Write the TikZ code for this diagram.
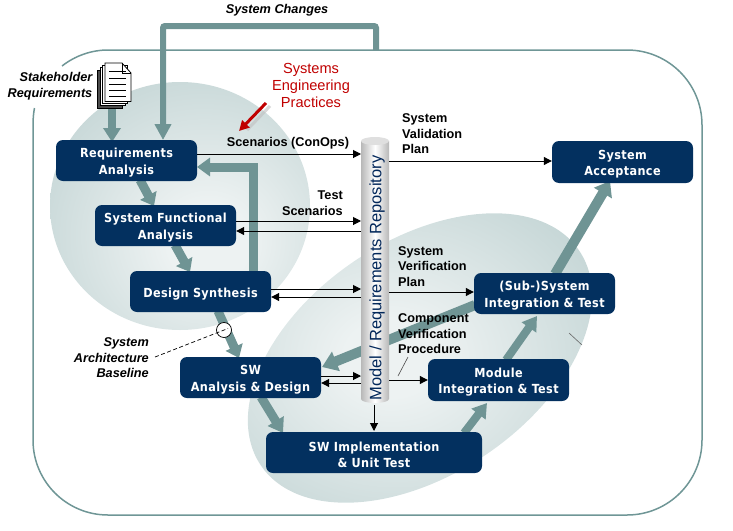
\documentclass[tikz,border=0pt]{standalone}
\usepackage{fontspec}
\setmainfont{Liberation Sans}
\newfontfamily\boxfont[LetterSpace=3]{DejaVu Sans Condensed}
\usetikzlibrary{arrows.meta,calc}
\definecolor{navy}{HTML}{03305F}
\definecolor{repotx}{HTML}{02275A}
\definecolor{teal1}{HTML}{6F9494}
\definecolor{blobout}{HTML}{B4CACA}
\definecolor{blobin}{HTML}{EDF2F2}
\definecolor{frame}{HTML}{6F9696}
\definecolor{redtx}{HTML}{C00000}
\definecolor{cylg}{HTML}{B8B8B8}
\newcommand\fstr{\rule{0pt}{14pt}}
\pgfdeclareradialshading{blobshadeA}{\pgfpoint{6bp}{-8bp}}{color(0bp)=(blobin);color(8bp)=(blobin);color(46bp)=(blobout);color(100bp)=(blobout)}
\pgfdeclareradialshading{blobshadeB}{\pgfpoint{-4bp}{0bp}}{color(0bp)=(blobin);color(6bp)=(blobin);color(40bp)=(blobout);color(100bp)=(blobout)}
\tikzset{
  x=1pt,y=-1pt,
  stepbox/.style={fill=navy,rounded corners=7pt,minimum width=141pt,minimum height=41pt,inner sep=0pt,text=white,align=center,font=\boxfont\bfseries\fontsize{12.5}{16.5}\selectfont},
  thick arrow/.style={draw=teal1,line width=8pt,-{Triangle[width=17pt,length=14pt,fill=teal1]}},
  thin arrow/.style={draw=black,line width=1pt,-{Triangle[width=8pt,length=8pt]}},
  lbl/.style={font=\bfseries\fontsize{12.7}{15.5}\selectfont,inner sep=0pt,align=left,anchor=west},
  ital/.style={font=\bfseries\itshape\fontsize{12.7}{15.5}\selectfont,inner sep=0pt},
  page/.style={draw=black,line width=.8pt,fill=white},
}
\begin{document}
\begin{tikzpicture}
\useasboundingbox (0,0) rectangle (733,530);
% blobs
\shade[shading=blobshadeA] (180,206) ellipse[x radius=130,y radius=124];
\shade[shading=blobshadeB,shift={(420,358)},rotate=34] (0,0) ellipse[x radius=192,y radius=117];
% frame
\draw[frame,line width=1.5pt,rounded corners=75pt] (108,50) -- (702,50) -- (702,515) -- (33,515) -- (33,125);
\draw[frame,line width=1.5pt] (108,50) .. controls (91.3,50) and (75.1,55.8) .. (62,66);
\draw[frame,line width=1.5pt] (33,125) .. controls (33,119) and (33.5,113) .. (34.5,108);
\path (126.5,160.5) coordinate (reqc) (165.5,225.5) coordinate (sfac) (200.5,291.5) coordinate (dsc)
      (250.5,377.5) coordinate (swc) (374,452.5) coordinate (implc) (498.5,380) coordinate (modc)
      (544.5,293.5) coordinate (subc) (622.5,162) coordinate (accc) (374.5,270) coordinate (cylc);
\path (114,85) node[minimum width=35pt,minimum height=46pt,inner sep=0pt] (docs) {};
% thick arrows
\draw[thick arrow] ([xshift=-2pt]docs.south) -- ([xshift=-14.5pt,yshift=-1pt]reqc |- 0,141);
\draw[thick arrow,line width=6pt,-{Triangle[width=16pt,length=16pt,fill=teal1]},rounded corners=2pt] (376,50) coordinate (chg) -- (376,26) -- (163,26) -- (163,140);
\draw[thick arrow,line width=9pt,-{Triangle[width=18pt,length=13pt,fill=teal1]}] (253,272) -- (253,167) -- (197,167);
\draw[thick arrow,line width=9pt,-{Triangle[width=18pt,length=12pt,fill=teal1]}] (140,180) -- (154,206);
\draw[thick arrow,line width=9pt,-{Triangle[width=18pt,length=12pt,fill=teal1]}] (175,245) -- (190,272);
\draw[thick arrow,line width=9pt,-{Triangle[width=18pt,length=12pt,fill=teal1]}] (218,311) -- (239,358);
\draw[thick arrow,line width=9pt,-{Triangle[width=18pt,length=14pt,fill=teal1]}] (261,397) -- (283,433);
\draw[thick arrow] (464,433) -- (487,403);
\draw[thick arrow] (506,360) -- (537,316);
\draw[thick arrow,line width=10pt,-{Triangle[width=20pt,length=14pt,fill=teal1]}] (555,274) -- (610,181);
\draw[thick arrow,line width=10pt,-{Triangle[width=20pt,length=15pt,fill=teal1]}] (475,305) -- (322,367);
% cylinder
\shade[left color=cylg,right color=cylg,middle color=white] (361,141) -- (361,399) arc[start angle=180,end angle=360,x radius=14,y radius=-4] -- (389,141) -- cycle;
\fill[cylg!45!white] (375,141) ellipse[x radius=14,y radius=4];
\node[rotate=90,font=\fontsize{16.5}{18}\selectfont,text=repotx,inner sep=0pt,anchor=center] (repo) at (377,278) {Model / Requirements Repository};
% boxes
\node[stepbox] (req) at (reqc) {\fstr Requirements\\Analysis};
\node[stepbox] (sfa) at (sfac) {\fstr System Functional\\Analysis};
\node[stepbox] (ds) at (dsc) {\fstr Design Synthesis};
\node[stepbox] (sw) at (swc) {\fstr SW\\Analysis \& Design};
\node[stepbox,minimum width=216pt] (impl) at (implc) {\fstr SW Implementation\\\& Unit Test};
\node[stepbox,minimum height=42pt] (mod) at (modc) {\fstr Module\\Integration \& Test};
\node[stepbox] (sub) at (subc) {\fstr (Sub-)System\\Integration \& Test};
\node[stepbox,minimum height=42pt] (acc) at (accc) {\fstr System\\Acceptance};
\coordinate (cylL) at (361,270);
\coordinate (cylR) at (389,270);
% thin arrows
\draw[thin arrow] (req.east |- 0,154) -- (cylL |- 0,154);
\draw[thin arrow] (cylR |- 0,161) -- (acc.west |- 0,161);
\draw[thin arrow] (sfa.east |- 0,221) -- (cylL |- 0,221);
\draw[thin arrow] (cylL |- 0,231) -- (sfa.east |- 0,231);
\draw[thin arrow] (ds.east |- 0,289) -- (cylL |- 0,289);
\draw[thin arrow] (cylL |- 0,297) -- (ds.east |- 0,297);
\draw[thin arrow] (cylR |- 0,292) -- (sub.west |- 0,292);
\draw[thin arrow] (sw.east |- 0,376) -- (cylL |- 0,376);
\draw[thin arrow] (cylL |- 0,383) -- (sw.east |- 0,383);
\draw[thin arrow] (cylR |- 0,380) -- (mod.west |- 0,380);
\draw[thin arrow] (374,405) -- (374,431);
% baseline marker
\node[circle,draw=black,fill=white,line width=.7pt,minimum size=15pt,inner sep=0pt] (mark) at (224,330) {};
\coordinate (basefree) at (155,357);
\draw[dashed,line width=.7pt,dash pattern=on 4pt off 2.5pt] (basefree) -- (228,328.5);
% component line and stray tick
\coordinate (cva) at (408,357);
\coordinate (cvb) at (398,376);
\draw[line width=.6pt,black!70] (cva) -- (cvb);
\coordinate (ta) at (569,333);
\coordinate (tb) at (582,345);
\draw[line width=.6pt,black!60] (ta) -- (tb);
% red arrow
\coordinate (ra) at (266,103);
\coordinate (rb) at (239,131);
\draw[line width=3pt,black!25,opacity=.6] (270,106) -- (247,130);
\draw[line width=3pt,redtx,-{Triangle[width=10pt,length=10pt]}] (ra) -- (rb);
% document stack
\draw[line width=.8pt,fill=black!70] (97.5,70) rectangle (122,108);
\draw[page] (100,67) rectangle (125,105.5);
\draw[page] (102.5,65) rectangle (127.5,103.5);
\draw[page] (105,63) -- (122,63) -- (131,73) -- (131,101.5) -- (105,101.5) -- cycle;
\draw[line width=.7pt] (122,63) -- (122,73) -- (131,73);
\foreach \yy in {71,78,84,90,96}{\draw[line width=.7pt] (109,\yy) -- (126,\yy);}
% labels
\node[ital] (tchg) at (277,10) {System Changes};
\node[ital,align=right,anchor=east] (tsh) at (92.5,86) {Stakeholder\\Requirements};
\node[ital,align=right,anchor=east] (tsab) at (149,358) {System\\Architecture\\Baseline};
\node[font=\fontsize{14.6}{17}\selectfont,text=redtx,align=center,inner sep=0pt] (tsep) at (311,85) {Systems\\Engineering\\Practices};
\node[font=\bfseries\fontsize{12.7}{15.5}\selectfont,inner sep=0pt] (tcon) at (288,143) {Scenarios (ConOps)};
\node[font=\bfseries\fontsize{12.7}{15.5}\selectfont,inner sep=0pt,align=right,anchor=east] (tts) at (343,203) {Test\\Scenarios};
\node[lbl] (tval) at (402,134) {System\\Validation\\Plan};
\node[lbl] (tver) at (398,266.5) {System\\Verification\\Plan};
\node[lbl] (tcomp) at (398,334) {Component\\Verification\\Procedure};
\end{tikzpicture}
\end{document}
